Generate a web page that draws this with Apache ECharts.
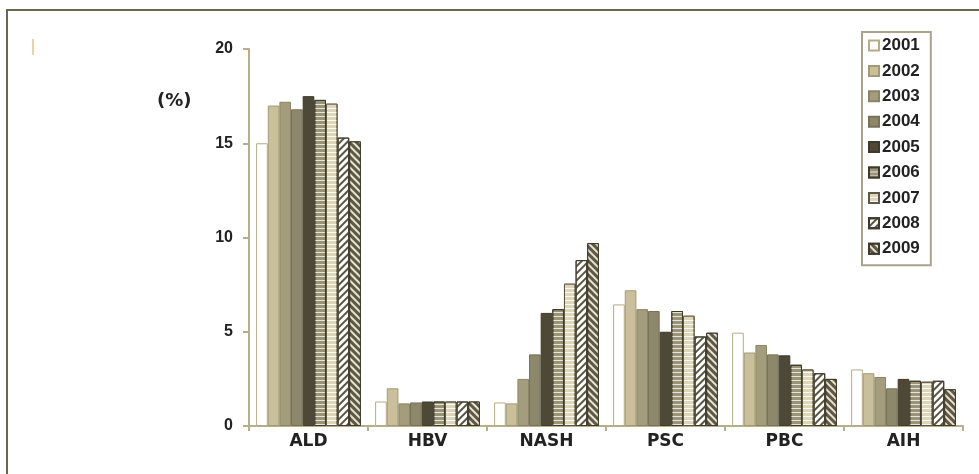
<!DOCTYPE html>
<html>
<head>
<meta charset="utf-8">
<script src="https://cdn.jsdelivr.net/npm/echarts@6/dist/echarts.min.js"></script>
<style>
  html, body { margin: 0; padding: 0; background: #fff; }
  #chart { width: 979px; height: 474px; }
</style>
</head>
<body>
<div id="chart"></div>
<script>
// liver disease categories and yearly shares (%)
var categories = ['ALD', 'HBV', 'NASH', 'PSC', 'PBC', 'AIH'];
var years = ['2001', '2002', '2003', '2004', '2005', '2006', '2007', '2008', '2009'];

var y2001 = [15.0, 1.3, 1.25, 6.45, 4.95, 3.0];
var y2002 = [17.0, 2.0, 1.2, 7.2, 3.9, 2.8];
var y2003 = [17.2, 1.2, 2.5, 6.2, 4.3, 2.6];
var y2004 = [16.8, 1.25, 3.8, 6.1, 3.8, 2.0];
var y2005 = [17.5, 1.3, 6.0, 5.0, 3.75, 2.5];
var y2006 = [17.3, 1.3, 6.2, 6.1, 3.25, 2.4];
var y2007 = [17.1, 1.3, 7.55, 5.85, 3.0, 2.35];
var y2008 = [15.3, 1.3, 8.8, 4.75, 2.8, 2.4];
var y2009 = [15.1, 1.3, 9.7, 4.95, 2.5, 1.95];

var yTicks = [0, 5, 10, 15, 20];

var FONT = '"DejaVu Sans", sans-serif';
var NUM_FONT = '"Liberation Sans", Arial, sans-serif';
var TEXT = '#222';
var AXIS = '#b8ae8a';

/**
 * 每一年的柱子样式
 */
var styles = [
    { color: '#ffffff', borderColor: '#b5ab85' },
    { color: '#c9c09b', borderColor: '#a39a74' },
    { color: '#a39d7d', borderColor: '#8a8466' },
    { color: '#8d886b', borderColor: '#767157' },
    { color: '#4e4936', borderColor: '#3e3a2a' },
    { color: '#9a9476', borderColor: '#3e3a2a',
      decal: { symbol: 'rect', symbolSize: 1, color: 'rgba(255,255,255,0.75)',
               dashArrayX: [1, 0], dashArrayY: [1, 3], rotation: 0 } },
    { color: '#ddd6b8', borderColor: '#5e5844',
      decal: { symbol: 'rect', symbolSize: 1, color: 'rgba(255,255,255,0.9)',
               dashArrayX: [1, 0], dashArrayY: [1, 3], rotation: 0 } },
    { color: '#ffffff', borderColor: '#3e3a2a',
      decal: { symbol: 'rect', symbolSize: 1, color: '#5a5440',
               dashArrayX: [1, 0], dashArrayY: [2, 3], rotation: -Math.PI / 4 } },
    { color: '#5e5844', borderColor: '#3e3a2a',
      decal: { symbol: 'rect', symbolSize: 1, color: '#e8e4d4',
               dashArrayX: [1, 0], dashArrayY: [2, 3], rotation: Math.PI / 4 } }
];

var values = [y2001, y2002, y2003, y2004, y2005, y2006, y2007, y2008, y2009];

var series = years.map(function(year, i){
    var st = styles[i];
    var itemStyle = {
        color: st.color,
        borderColor: st.borderColor,
        borderWidth: 1
    };
    if(st.decal){
        itemStyle.decal = st.decal;
    }
    return {
        name: year,
        type: 'bar',
        data: values[i],
        barGap: '0%',
        barCategoryGap: '12%',
        itemStyle: itemStyle,
        emphasis: { disabled: true }
    };
});

var chart = echarts.init(document.getElementById('chart'));

chart.setOption({
    animation: false,
    backgroundColor: '#fff',
    grid: { left: 249, right: 16, top: 49, bottom: 48 },
    legend: {
        orient: 'vertical',
        left: 862,
        top: 32,
        padding: [5, 11, 8, 6],
        borderColor: '#aaa28a',
        borderWidth: 2,
        itemWidth: 10,
        itemHeight: 10,
        itemGap: 8.4,
        icon: 'rect',
        textStyle: { fontFamily: NUM_FONT, fontWeight: 'bold', fontSize: 17, color: TEXT, lineHeight: 17, padding: [0, 0, 0, -2] },
        data: years
    },
    xAxis: {
        type: 'category',
        data: categories,
        axisLine: { lineStyle: { color: AXIS, width: 2 } },
        axisTick: { show: true, length: 5, lineStyle: { color: AXIS, width: 2 } },
        axisLabel: { fontFamily: FONT, fontWeight: 'bold', fontSize: 17, color: TEXT, margin: 7 }
    },
    yAxis: {
        type: 'value',
        min: yTicks[0],
        max: yTicks[yTicks.length - 1],
        interval: 5,
        splitLine: { show: false },
        axisLine: { show: true, lineStyle: { color: AXIS, width: 2 } },
        axisTick: { show: true, length: 6, lineStyle: { color: AXIS, width: 2 } },
        axisLabel: { fontFamily: NUM_FONT, fontWeight: 'bold', fontSize: 16, color: TEXT, margin: 16 }
    },
    graphic: [
        {
            type: 'polyline',
            shape: { points: [[7, 480], [7, 10], [985, 10]] },
            style: { stroke: '#6b6650', lineWidth: 2, fill: null },
            silent: true
        },
        {
            type: 'line',
            shape: { x1: 33, y1: 39, x2: 33, y2: 55 },
            style: { stroke: '#e0a050', lineWidth: 1 },
            silent: true
        },
        {
            type: 'text',
            left: 157,
            top: 92,
            style: { text: '(%)', fontFamily: FONT, fontWeight: 'bold', fontSize: 18, fill: TEXT }
        }
    ],
    series: series
});
</script>
</body>
</html>
